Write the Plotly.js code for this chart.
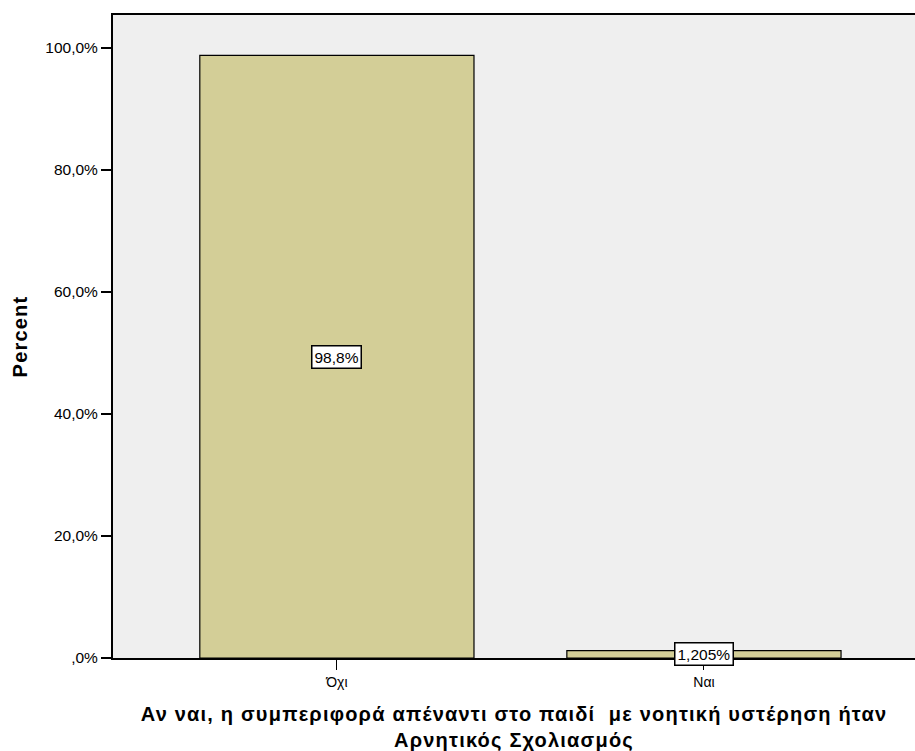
<!DOCTYPE html>
<html>
<head>
<meta charset="utf-8">
<script src="https://cdn.plot.ly/plotly-3.0.1.min.js"></script>
<style>
html,body{margin:0;padding:0;background:#fff;}
#chart{width:915px;height:751px;}
.xtitle{letter-spacing:1.2px;}
.ytitle{letter-spacing:1.2px;}
</style>
</head>
<body>
<div id="chart"></div>
<script>
const categories = ["Όχι", "Ναι"];
const values = [98.795, 1.205];
const valueLabels = ["98,8%", "1,205%"];
const yTickVals = [0, 20, 40, 60, 80, 100];
const yTickText = [",0%", "20,0%", "40,0%", "60,0%", "80,0%", "100,0%"];
const xTitle = "Αν ναι, η συμπεριφορά απέναντι στο παιδί  με νοητική υστέρηση ήταν<br>Αρνητικός Σχολιασμός";
const yTitle = "Percent";

const FONT = "Liberation Sans, Arial, sans-serif";

const trace = {
  type: "bar",
  x: [0, 1],
  y: values,
  width: 0.747,
  marker: {color: "#D3CE97", line: {color: "#000000", width: 1.2}},
  hoverinfo: "none"
};

const annotations = values.map((v, i) => ({
  x: i, y: v / 2, xref: "x", yref: "y",
  text: valueLabels[i], showarrow: false,
  font: {family: FONT, size: 15.5, color: "#000"},
  bgcolor: "#ffffff", bordercolor: "#000000", borderwidth: 1.5, borderpad: 2
}));

const layout = {
  width: 915, height: 751,
  margin: {l: 113, r: 0, t: 15, b: 93},
  paper_bgcolor: "#ffffff",
  plot_bgcolor: "#EFEFEF",
  showlegend: false,
  font: {family: FONT, color: "#000"},
  xaxis: {
    range: [-0.61, 1.575],
    tickvals: [0, 1], ticktext: categories,
    ticks: "outside", ticklen: 10, tickcolor: "#000", tickwidth: 1,
    tickfont: {family: FONT, size: 14, color: "#000"},
    showline: true, linecolor: "#000", linewidth: 2, mirror: true,
    showgrid: false, zeroline: false,
    title: {text: xTitle, font: {family: FONT, size: 20, color: "#000", weight: "bold"}, standoff: 20}
  },
  yaxis: {
    range: [0, 105.4],
    tickvals: yTickVals, ticktext: yTickText,
    ticks: "outside", ticklen: 10, tickcolor: "#000", tickwidth: 2,
    tickfont: {family: FONT, size: 15.5, color: "#000"},
    showline: true, linecolor: "#000", linewidth: 2,
    showgrid: false, zeroline: false,
    title: {text: yTitle, font: {family: FONT, size: 20, color: "#000", weight: "bold"}, standoff: 12}
  },
  annotations: annotations
};

Plotly.newPlot("chart", [trace], layout, {displayModeBar: false, staticPlot: true});
</script>
</body>
</html>
